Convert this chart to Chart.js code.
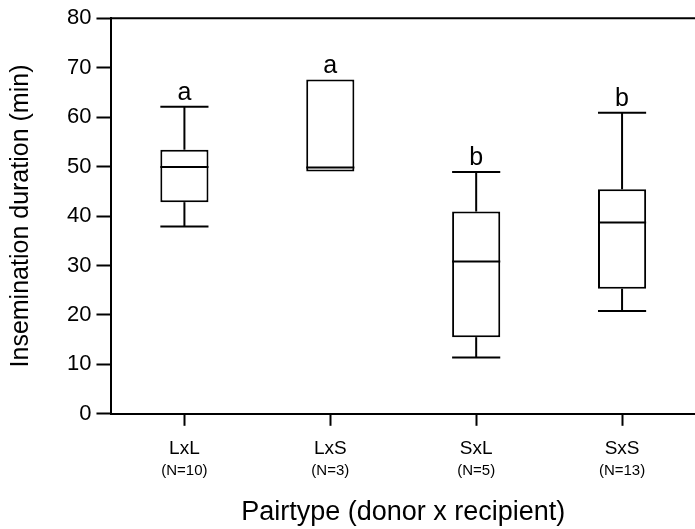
<!DOCTYPE html>
<html>
<head>
<meta charset="utf-8">
<script src="https://cdn.jsdelivr.net/npm/chart.js@4"></script>
<style>
  body { margin: 0; background: #fff; }
  #wrap { width: 695px; height: 529px; }
</style>
</head>
<body>
<div id="wrap"><canvas id="boxChart"></canvas></div>
<script>
// values
const categories = ['LxL', 'LxS', 'SxL', 'SxS'];
const nLabels = ['(N=10)', '(N=3)', '(N=5)', '(N=13)'];
const minVals = [37.9, 49.0, 11.4, 20.8];
const q1Vals = [42.8, 49.0, 15.5, 25.3];
const medianVals = [49.9, 49.8, 30.8, 38.7];
const q3Vals = [53.4, 67.6, 40.9, 45.4];
const maxVals = [62.1, 67.6, 48.9, 60.9];
const groupLetters = ['a', 'a', 'b', 'b'];

const font = 'Liberation Sans, Arial, sans-serif';

// whiskers, medians, letters, sample sizes and the top frame line
const boxExtras = {
    id: 'boxExtras',
    afterDatasetsDraw(chart) {
        const { ctx, chartArea, scales: { x, y } } = chart;
        const meta = chart.getDatasetMeta(0);
        ctx.save();
        ctx.strokeStyle = '#000';
        ctx.lineWidth = 2;
        ctx.lineCap = 'butt';
        const line = (x1, y1, x2, y2) => {
            ctx.beginPath();
            ctx.moveTo(x1, y1);
            ctx.lineTo(x2, y2);
            ctx.stroke();
        };
        line(chartArea.left, chartArea.top, chartArea.right, chartArea.top);

        categories.forEach((c, i) => {
            const bar = meta.data[i];
            const cx = bar.x;
            const half = bar.width / 2;
            const yMax = y.getPixelForValue(maxVals[i]);
            const yMin = y.getPixelForValue(minVals[i]);
            const yQ3 = y.getPixelForValue(q3Vals[i]);
            const yQ1 = y.getPixelForValue(q1Vals[i]);
            const yMed = y.getPixelForValue(medianVals[i]);
            if (maxVals[i] > q3Vals[i]) {
                line(cx, yQ3, cx, yMax);
                line(cx - half, yMax, cx + half, yMax);
            }
            if (minVals[i] < q1Vals[i]) {
                line(cx, yQ1, cx, yMin);
                line(cx - half, yMin, cx + half, yMin);
            }
            line(cx - half, yMed, cx + half, yMed);

            ctx.fillStyle = '#000';
            ctx.textAlign = 'center';
            ctx.textBaseline = 'bottom';
            ctx.font = '25px ' + font;
            ctx.fillText(groupLetters[i], cx, yMax - 1);

            // sample size under the category label
            ctx.textBaseline = 'middle';
            ctx.font = '15px ' + font;
            ctx.fillText(nLabels[i], x.getPixelForValue(i), chartArea.bottom + 57);
        });
        ctx.restore();
    }
};

const ctx = document.getElementById('boxChart').getContext('2d');
const boxChart = new Chart(ctx, {
    type: 'bar',
    data: {
        labels: categories,
        datasets: [{
            label: 'Insemination duration',
            data: categories.map((c, i) => [q1Vals[i], q3Vals[i]]),
            backgroundColor: '#fff',
            borderColor: '#000',
            borderWidth: 2,
            borderSkipped: false,
            categoryPercentage: 1,
            barPercentage: 0.33
        }]
    },
    options: {
        responsive: true,
        maintainAspectRatio: false,
        animation: false,
        layout: { padding: { top: 10, right: 0, left: 6, bottom: 0 } },
        plugins: {
            legend: { display: false },
            tooltip: { enabled: false }
        },
        scales: {
            x: {
                grid: {
                    drawOnChartArea: false,
                    drawTicks: true,
                    tickLength: 12,
                    tickWidth: 2,
                    tickColor: '#000',
                    offset: false
                },
                border: { color: '#000', width: 2 },
                ticks: { color: '#000', font: { family: font, size: 19 }, padding: 12 },
                title: {
                    display: true,
                    text: 'Pairtype (donor x recipient)',
                    color: '#000',
                    font: { family: font, size: 27 },
                    padding: { top: 24, bottom: 0 }
                }
            },
            y: {
                min: 0,
                max: 80,
                ticks: { stepSize: 10, color: '#000', font: { family: font, size: 22 }, padding: 5 },
                grid: {
                    drawOnChartArea: false,
                    tickLength: 15,
                    tickWidth: 2,
                    tickColor: '#000'
                },
                border: { color: '#000', width: 2 },
                title: {
                    display: true,
                    text: 'Insemination duration (min)',
                    color: '#000',
                    font: { family: font, size: 25 },
                    padding: { top: 0, bottom: 26 }
                }
            }
        }
    },
    plugins: [boxExtras]
});
</script>
</body>
</html>
